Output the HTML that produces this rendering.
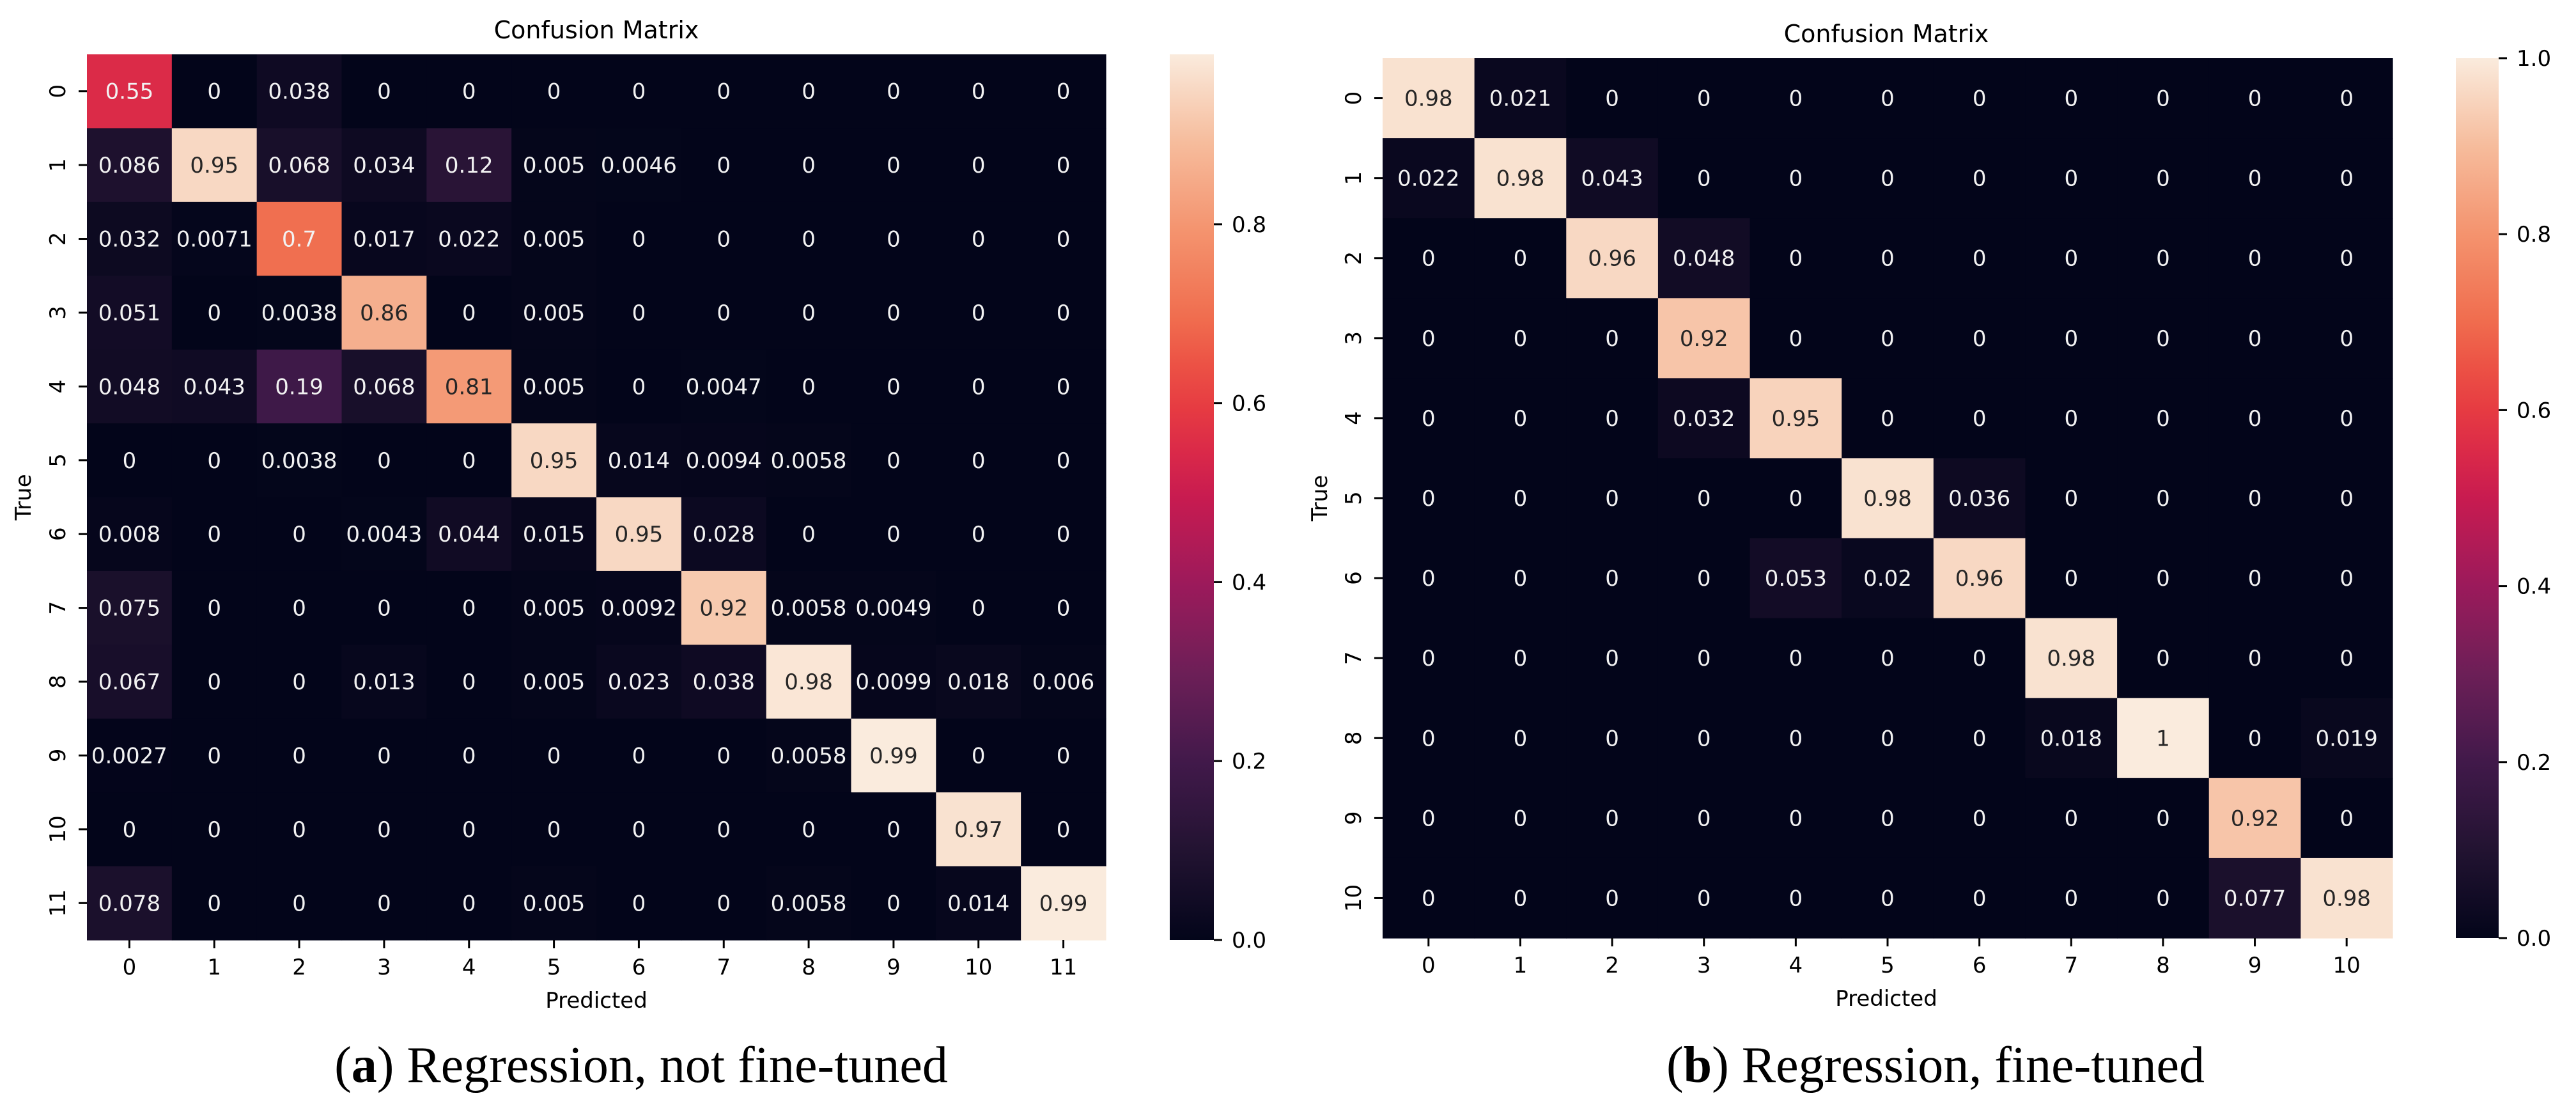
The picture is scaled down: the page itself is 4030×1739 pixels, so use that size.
<!DOCTYPE html>
<html><head><meta charset="utf-8"><style>
html,body{margin:0;padding:0;background:#fff;}
svg{display:block;}
text{font-family:"DejaVu Sans","Liberation Sans",sans-serif;}
.cap{font-family:"Liberation Serif","DejaVu Serif",serif;}
</style></head><body>
<svg id="fig" width="4030" height="1739" viewBox="0 0 4030 1739" xmlns="http://www.w3.org/2000/svg">
<defs id="defs"></defs>
</svg>
<script>
const labelsA = ["0","1","2","3","4","5","6","7","8","9","10","11"];
const valuesA = [
[0.55,0,0.038,0,0,0,0,0,0,0,0,0],
[0.086,0.95,0.068,0.034,0.12,0.005,0.0046,0,0,0,0,0],
[0.032,0.0071,0.7,0.017,0.022,0.005,0,0,0,0,0,0],
[0.051,0,0.0038,0.86,0,0.005,0,0,0,0,0,0],
[0.048,0.043,0.19,0.068,0.81,0.005,0,0.0047,0,0,0,0],
[0,0,0.0038,0,0,0.95,0.014,0.0094,0.0058,0,0,0],
[0.008,0,0,0.0043,0.044,0.015,0.95,0.028,0,0,0,0],
[0.075,0,0,0,0,0.005,0.0092,0.92,0.0058,0.0049,0,0],
[0.067,0,0,0.013,0,0.005,0.023,0.038,0.98,0.0099,0.018,0.006],
[0.0027,0,0,0,0,0,0,0,0.0058,0.99,0,0],
[0,0,0,0,0,0,0,0,0,0,0.97,0],
[0.078,0,0,0,0,0.005,0,0,0.0058,0,0.014,0.99]
];
const cbTicksA = [0,0.2,0.4,0.6,0.8];
const labelsB = ["0","1","2","3","4","5","6","7","8","9","10"];
const valuesB = [
[0.98,0.021,0,0,0,0,0,0,0,0,0],
[0.022,0.98,0.043,0,0,0,0,0,0,0,0],
[0,0,0.96,0.048,0,0,0,0,0,0,0],
[0,0,0,0.92,0,0,0,0,0,0,0],
[0,0,0,0.032,0.95,0,0,0,0,0,0],
[0,0,0,0,0,0.98,0.036,0,0,0,0],
[0,0,0,0,0.053,0.02,0.96,0,0,0,0],
[0,0,0,0,0,0,0,0.98,0,0,0],
[0,0,0,0,0,0,0,0.018,1,0,0.019],
[0,0,0,0,0,0,0,0,0,0.92,0],
[0,0,0,0,0,0,0,0,0,0.077,0.98]
];
const cbTicksB = [0,0.2,0.4,0.6,0.8,1.0];

const NS="http://www.w3.org/2000/svg";
const svg=document.getElementById('fig');
const defs=document.getElementById('defs');
function mk(tag,attrs,parent){const e=document.createElementNS(NS,tag);for(const k in attrs)e.setAttribute(k,attrs[k]);(parent||svg).appendChild(e);return e;}
const stops=[[0,[3,5,26]],[0.1,[34,19,49]],[0.2,[65,25,74]],[0.3,[108,31,87]],[0.4,[155,26,91]],[0.5,[200,27,80]],[0.56,[221,44,71]],[0.62,[234,66,63]],[0.7,[240,108,78]],[0.8,[244,147,110]],[0.9,[246,188,156]],[1,[250,235,221]]];
function cmap(t){t=Math.max(0,Math.min(1,t));for(let i=1;i<stops.length;i++){if(t<=stops[i][0]){const a=stops[i-1],b=stops[i];const f=(t-a[0])/(b[0]-a[0]);const c=a[1].map((v,j)=>Math.round(v+(b[1][j]-v)*f));return `rgb(${c[0]},${c[1]},${c[2]})`;}}return 'rgb(250,235,221)';}

function drawChart(o){
  const g=mk('g',{});
  
  
  const n=o.labels.length;
  const cw=(o.x1-o.x0)/n, ch=(o.y1-o.y0)/n;
  const xs=i=>o.x0+cw*i, ys=i=>o.y0+ch*i;
  o.values.forEach((row,r)=>row.forEach((v,c)=>{
    const rc=mk('rect',{x:xs(c),y:ys(r),width:cw+0.6,height:ch+0.6,fill:cmap(v/o.vmax)},g);
    
    
    const t=mk('text',{x:xs(c)+cw/2,y:ys(r)+ch/2+12,'text-anchor':'middle','font-size':34,fill:(v/o.vmax>0.75?'#262626':'#f2f2f2')},g);
    t.textContent=String(v);
    
    
  }));
  o.labels.forEach((l,i)=>{
    const cx=xs(i)+cw/2;
    mk('line',{x1:cx,x2:cx,y1:o.y1,y2:o.y1+13,stroke:'#000','stroke-width':3},g);
    const t=mk('text',{x:cx,y:o.y1+54,'text-anchor':'middle','font-size':34,fill:'#000'},g);
    t.textContent=l;
    
    
    const cy=ys(i)+ch/2;
    mk('line',{x1:o.x0-13,x2:o.x0,y1:cy,y2:cy,stroke:'#000','stroke-width':3},g);
    const ty=mk('text',{x:0,y:0,'text-anchor':'middle','font-size':34,fill:'#000',transform:`translate(${o.x0-34},${cy}) rotate(-90)`},g);
    ty.textContent=l;
    
    
  });
  const gid='grad'+o.id;
  const lg=mk('linearGradient',{id:gid,x1:0,y1:1,x2:0,y2:0},defs);
  for(let i=0;i<=20;i++){mk('stop',{offset:i/20,'stop-color':cmap(i/20)},lg);}
  const cb=mk('rect',{x:o.cbx,y:o.y0,width:o.cbw,height:o.y1-o.y0,fill:`url(#${gid})`},g);
  
  
  o.cbTicks.forEach(v=>{
    const y=o.y1-(o.y1-o.y0)*v/o.vmax;
    mk('line',{x1:o.cbx+o.cbw,x2:o.cbx+o.cbw+13,y1:y,y2:y,stroke:'#000','stroke-width':3},g);
    const t=mk('text',{x:o.cbx+o.cbw+28,y:y+12,'font-size':34,fill:'#000'},g);
    t.textContent=v.toFixed(1);
    
    
  });
  const tt=mk('text',{x:o.tx,y:o.ty,'text-anchor':'middle','font-size':38,fill:'#000'},g);
  tt.textContent='Confusion Matrix';
  
  
  const xl=mk('text',{x:o.tx,y:o.y1+106,'text-anchor':'middle','font-size':34,fill:'#000'},g);
  xl.textContent='Predicted';
  
  
  const yl=mk('text',{x:0,y:0,'text-anchor':'middle','font-size':34,fill:'#000',transform:`translate(${o.yx},${(o.y0+o.y1)/2}) rotate(-90)`},g);
  yl.textContent='True';
  
  
  const cap=mk('text',{x:o.capx,y:1692,'text-anchor':'middle','font-size':80,fill:'#000','class':'cap'},g);
  cap.innerHTML='(<tspan font-weight="bold">'+o.letter+'</tspan>) '+o.caption;
  
  
}
drawChart({id:'matrix-a',labels:labelsA,values:valuesA,vmax:0.99,cbTicks:cbTicksA,x0:136,x1:1730,y0:85,y1:1470,cbx:1830,cbw:69,tx:933,ty:60,yx:48,capx:1003,letter:'a',caption:'Regression, not fine-tuned'});
drawChart({id:'matrix-b',labels:labelsB,values:valuesB,vmax:1.0,cbTicks:cbTicksB,x0:2163,x1:3743,y0:91,y1:1467,cbx:3842,cbw:67,tx:2951,ty:66,yx:2076,capx:3028,letter:'b',caption:'Regression, fine-tuned'});
</script>
</body></html>
